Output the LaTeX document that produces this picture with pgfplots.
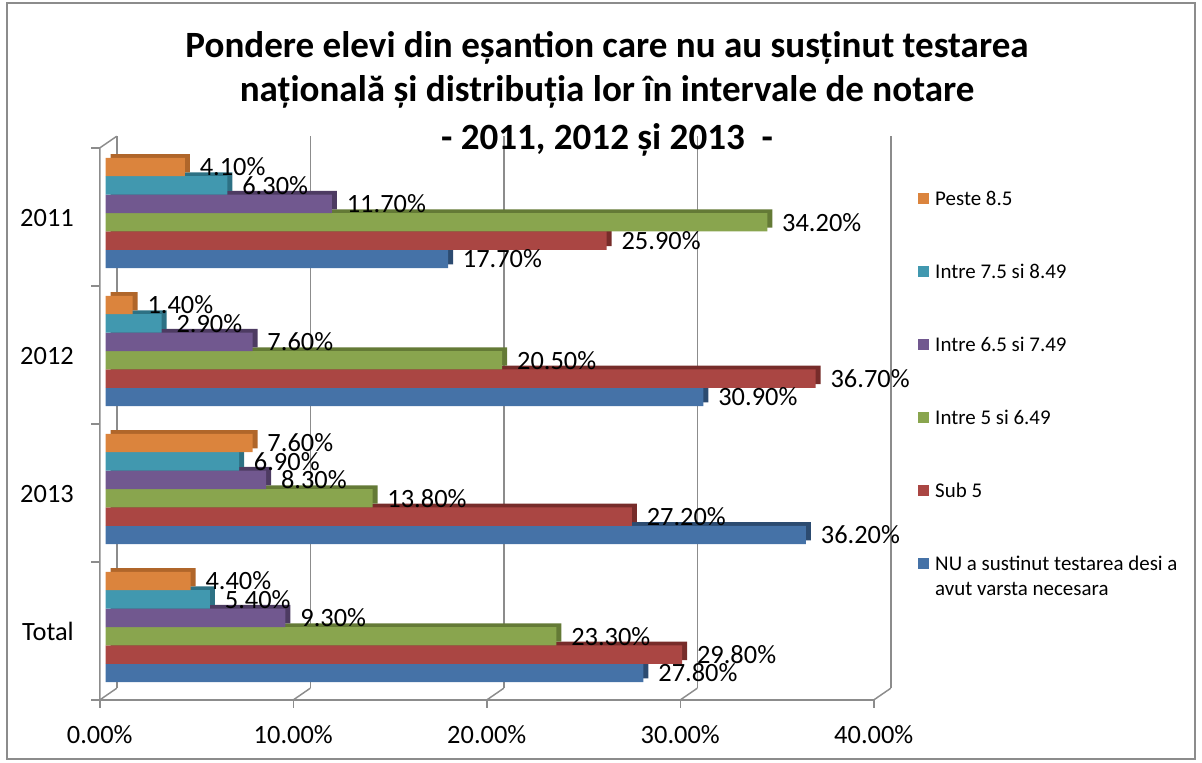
\documentclass[border=0pt]{standalone}
\usepackage{fontspec}
\setmainfont{Carlito}
\usepackage{pgfplots}
\usepackage{pgfplotstable}
\pgfplotsset{compat=1.18}

\definecolor{cBlue}{HTML}{4572A7}   \definecolor{cBlueD}{HTML}{2C4B70}
\definecolor{cRed}{HTML}{AA4643}    \definecolor{cRedD}{HTML}{772C2A}
\definecolor{cGreen}{HTML}{89A54E}  \definecolor{cGreenD}{HTML}{647A36}
\definecolor{cPurple}{HTML}{71588F} \definecolor{cPurpleD}{HTML}{4D3B62}
\definecolor{cTeal}{HTML}{4198AF}   \definecolor{cTealD}{HTML}{2D7184}
\definecolor{cOrange}{HTML}{DB843D} \definecolor{cOrangeD}{HTML}{B0662A}
\definecolor{gridc}{HTML}{8C8C8C}

% y: 0=Total, 1=2013, 2=2012, 3=2011
\pgfplotstableread{
y  nu    sub   a     b     c    d
0  27.8  29.8  23.3  9.3   5.4  4.4
1  36.2  27.2  13.8  8.3   6.9  7.6
2  30.9  36.7  20.5  7.6   2.9  1.4
3  17.7  25.9  34.2  11.7  6.3  4.1
}\data

\pgfplotsset{
  shade/.style={forget plot, draw=none, xshift=3.75pt, yshift=2.8pt,
    nodes near coords={}},
}

\begin{document}
\begin{tikzpicture}
\path[use as bounding box] (0,0) rectangle (901.5pt,-572.25pt);
\begin{scope}[x=0.75pt,y=-0.75pt]
  % outer frame
  \draw[gridc, line width=1.5pt] (7,3.5) rectangle (1195,759);
  % 3D walls and floor
  \begin{scope}[gridc, line width=1.1pt]
    \foreach \k in {0,...,4} {
      \draw (116.8+193.5*\k,688.2) -- (116.8+193.5*\k,136.2);
      \draw (99.8+193.5*\k,699.9) -- (116.8+193.5*\k,688.2);
      \draw (99.8+193.5*\k,699.9) -- ++(0,7.7);
    }
    \draw (91,699.9) -- (873.8,699.9);
    \draw (99.8,699.9) -- (99.8,147.9) -- (116.8,136.2);
    \foreach \y in {147.9,285.9,423.9,561.9} \draw (91,\y) -- (99.8,\y);
  \end{scope}
  % title
  \begin{scope}[font=\fontsize{27.8}{32}\bfseries]
    \node[anchor=base, inner sep=0pt] at (607,57.7) {Pondere elevi din eșantion care nu au susținut testarea};
    \node[anchor=base, inner sep=0pt] at (607,102) {națională și distribuția lor în intervale de notare};
    \node[anchor=base, inner sep=0pt] at (607,150) {- 2011, 2012 și 2013~~-};
  \end{scope}
\end{scope}

\begin{axis}[
  at={(79.125pt,-522pt)}, anchor=south west,
  scale only axis, width=580.5pt, height=414pt,
  xmin=0, xmax=40, ymin=-0.5, ymax=3.5, clip=false,
  axis line style={draw=none}, major tick length=0pt,
  xtick={0,10,20,30,40},
  xticklabels={0.00\%,10.00\%,20.00\%,30.00\%,40.00\%},
  ytick={0,1,2,3}, yticklabels={Total,2013,2012,2011},
  ticklabel style={font=\fontsize{19.8}{23}\selectfont, inner sep=0pt},
  xticklabel style={anchor=north, xshift=-4.3pt, yshift=-21.75pt},
  yticklabel style={anchor=east, xshift=-23.6pt, yshift=-3.4pt},
  xbar, bar width=13.8pt, point meta=x,
  nodes near coords={\pgfmathprintnumber[fixed,fixed zerofill,precision=2,assume math mode=true]{\pgfplotspointmeta}\%},
  every node near coord/.append style={font=\fontsize{19.8}{23}\selectfont,
    anchor=west, inner sep=0pt, xshift=11pt, text=black},
  legend style={draw=none, fill=none, inner sep=0pt,
    at={(1.0497,0.9136)}, anchor=north west,
    row sep=41.75pt, column sep=4.5pt,
    font=\fontsize{15.7}{18.75}\selectfont,
    nodes={inner sep=0pt, text height=10pt, text depth=3pt}},
  legend cell align=left,
  legend style={cells={anchor=base west}},
  reverse legend,
  legend image code/.code={\fill[#1] (0pt,0.75pt) rectangle (8.25pt,9pt);},
]
\addplot[shade, fill=cBlueD, bar shift=-34.5pt] table[x=nu,y=y]{\data};
\addplot[draw=none, fill=cBlue, bar shift=-34.5pt] table[x=nu,y=y]{\data};
\addlegendentry{\begin{tabular}[t]{@{}l@{}}NU a sustinut testarea desi a\\avut varsta necesara\end{tabular}}
\addplot[shade, fill=cRedD, bar shift=-20.7pt] table[x=sub,y=y]{\data};
\addplot[draw=none, fill=cRed, bar shift=-20.7pt] table[x=sub,y=y]{\data};
\addlegendentry{Sub 5}
\addplot[shade, fill=cGreenD, bar shift=-6.9pt] table[x=a,y=y]{\data};
\addplot[draw=none, fill=cGreen, bar shift=-6.9pt] table[x=a,y=y]{\data};
\addlegendentry{Intre 5 si 6.49}
\addplot[shade, fill=cPurpleD, bar shift=6.9pt] table[x=b,y=y]{\data};
\addplot[draw=none, fill=cPurple, bar shift=6.9pt] table[x=b,y=y]{\data};
\addlegendentry{Intre 6.5 si 7.49}
\addplot[shade, fill=cTealD, bar shift=20.7pt] table[x=c,y=y]{\data};
\addplot[draw=none, fill=cTeal, bar shift=20.7pt] table[x=c,y=y]{\data};
\addlegendentry{Intre 7.5 si 8.49}
\addplot[shade, fill=cOrangeD, bar shift=34.5pt] table[x=d,y=y]{\data};
\addplot[draw=none, fill=cOrange, bar shift=34.5pt] table[x=d,y=y]{\data};
\addlegendentry{Peste 8.5}
\end{axis}
\end{tikzpicture}
\end{document}
